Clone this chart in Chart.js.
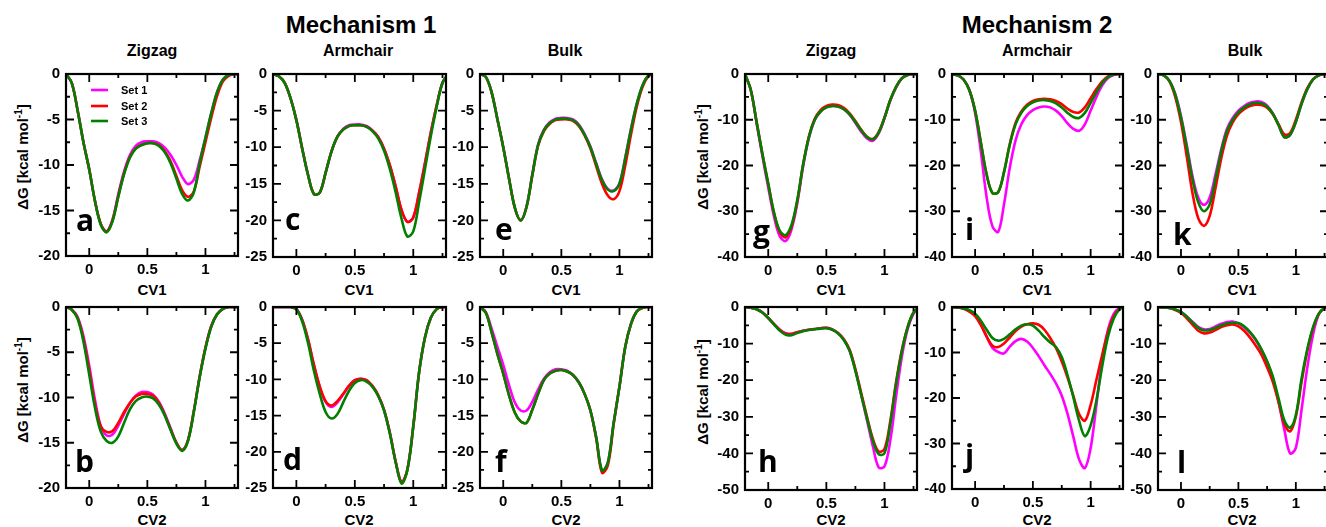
<!DOCTYPE html>
<html>
<head>
<meta charset="utf-8">
<script src="https://cdn.jsdelivr.net/npm/chart.js@4.4.1/dist/chart.umd.min.js"></script>
<style>
  body { margin: 0; background: #fff; width: 1326px; height: 527px; overflow: hidden; position: relative;
         font-family: "Liberation Sans", Arial, sans-serif; font-weight: bold; color: #000; }
  canvas { position: absolute; }
  .t { position: absolute; white-space: nowrap; transform: translateX(-50%); line-height: 1; }
  .yt { position: absolute; white-space: nowrap; font-size: 15px; line-height: 1;
        transform: translate(-50%, -50%) rotate(-90deg); }
  .yt sup { font-size: 10px; }
</style>
</head>
<body>
<div class="t" style="left:361px;top:13px;font-size:24px">Mechanism 1</div>
<div class="t" style="left:1037px;top:13px;font-size:24px">Mechanism 2</div>
<div class="t" style="left:152px;top:43px;font-size:16px">Zigzag</div>
<div class="t" style="left:358px;top:43px;font-size:16px">Armchair</div>
<div class="t" style="left:565px;top:43px;font-size:16px">Bulk</div>
<div class="t" style="left:831px;top:43px;font-size:16px">Zigzag</div>
<div class="t" style="left:1037px;top:43px;font-size:16px">Armchair</div>
<div class="t" style="left:1245px;top:43px;font-size:16px">Bulk</div>
<div class="t" style="left:152px;top:282px;font-size:15px">CV1</div>
<div class="t" style="left:359px;top:282px;font-size:15px">CV1</div>
<div class="t" style="left:566px;top:282px;font-size:15px">CV1</div>
<div class="t" style="left:831px;top:282px;font-size:15px">CV1</div>
<div class="t" style="left:1037px;top:282px;font-size:15px">CV1</div>
<div class="t" style="left:1242px;top:282px;font-size:15px">CV1</div>
<div class="t" style="left:152px;top:512px;font-size:15px">CV2</div>
<div class="t" style="left:359px;top:512px;font-size:15px">CV2</div>
<div class="t" style="left:566px;top:512px;font-size:15px">CV2</div>
<div class="t" style="left:831px;top:512px;font-size:15px">CV2</div>
<div class="t" style="left:1037px;top:512px;font-size:15px">CV2</div>
<div class="t" style="left:1242px;top:512px;font-size:15px">CV2</div>
<div class="yt" style="left:22px;top:157px">ΔG [kcal mol<sup>-1</sup>]</div>
<div class="yt" style="left:22px;top:390px">ΔG [kcal mol<sup>-1</sup>]</div>
<div class="yt" style="left:702px;top:157px">ΔG [kcal mol<sup>-1</sup>]</div>
<div class="yt" style="left:702px;top:392px">ΔG [kcal mol<sup>-1</sup>]</div>
<script>
// collective variable grid shared by all curves
const cv = [-0.2, -0.15, -0.1, -0.05, 0, 0.05, 0.1, 0.15, 0.2, 0.25, 0.3, 0.35, 0.4, 0.45, 0.5,
  0.55, 0.6, 0.65, 0.7, 0.75, 0.8, 0.85, 0.9, 0.95, 1, 1.05, 1.1, 1.15, 1.2, 1.25, 1.3];

const setNames = ['Set 1', 'Set 2', 'Set 3'];
const setColors = ['#ff00ff', '#ff0000', '#008000'];

// Mechanism 1, CV1
const a1 = [0,-1,-4,-7.5,-10.5,-14,-16.5,-17.3,-16,-13.2,-10.7,-8.9,-7.9,-7.5,-7.4,-7.4,-7.6,-8.1,-8.9,-10,-11.3,-12.1,-11.6,-9.5,-7,-4.3,-2,-0.6,-0.1,0,0];
const a2 = [0,-1,-4,-7.5,-10.5,-14,-16.5,-17.3,-16.1,-13.4,-10.9,-9.1,-8.2,-7.8,-7.6,-7.6,-7.8,-8.5,-9.6,-11.2,-12.8,-13.5,-12.9,-10.2,-7.5,-4.8,-2.4,-0.8,-0.2,0,0];
const a3 = [0,-1,-4,-7.5,-10.5,-14,-16.6,-17.4,-16.2,-13.5,-11,-9.2,-8.2,-7.8,-7.6,-7.6,-7.9,-8.6,-9.8,-11.5,-13.2,-13.9,-13,-9.8,-7,-4.3,-2,-0.6,-0.1,0,0];
const c1 = [0,-0.3,-1.2,-3.3,-6.3,-10.2,-13.8,-16.4,-16.2,-13.5,-10.6,-8.6,-7.5,-7,-6.9,-6.9,-7.1,-7.7,-8.6,-10.2,-12.5,-15.4,-18.6,-20.2,-19.6,-16.2,-12.2,-8,-4.3,-1.2,0];
const c2 = [0,-0.3,-1.2,-3.3,-6.3,-10.2,-13.8,-16.4,-16.2,-13.5,-10.6,-8.6,-7.6,-7.1,-7,-7,-7.2,-7.7,-8.6,-10.2,-12.5,-15.4,-18.6,-20.2,-19.6,-16.2,-12.2,-8,-4.3,-1.2,0];
const c3 = [0,-0.3,-1.2,-3.3,-6.3,-10.2,-13.8,-16.4,-16.2,-13.5,-10.6,-8.6,-7.6,-7.1,-7,-7,-7.2,-7.8,-8.8,-10.5,-13,-16.2,-19.8,-22.2,-21.5,-17.5,-13,-8.5,-4.5,-1.2,0];
const e1 = [0,-0.4,-2.5,-6.2,-10,-14.3,-18.3,-20,-18.1,-13.7,-9.6,-7.6,-6.6,-6.1,-6,-6,-6.2,-6.9,-8.2,-9.9,-12.2,-14.4,-15.7,-15.9,-14.9,-11.4,-7.4,-4,-1.5,-0.2,0];
const e2 = [0,-0.4,-2.5,-6.2,-10,-14.3,-18.3,-20,-18.2,-13.9,-9.8,-7.8,-6.8,-6.3,-6.2,-6.2,-6.4,-7.1,-8.4,-10.2,-12.6,-15,-16.6,-17.1,-16,-12.5,-8.2,-4.4,-1.7,-0.3,0];
const e3 = [0,-0.4,-2.5,-6.2,-10,-14.3,-18.3,-20,-18.2,-13.8,-9.7,-7.7,-6.7,-6.2,-6.1,-6.1,-6.3,-7,-8.3,-10,-12.3,-14.5,-15.8,-16,-15,-11.5,-7.5,-4,-1.5,-0.2,0];

// Mechanism 1, CV2
const b1 = [0,-0.3,-1.1,-3.2,-6.5,-10.3,-13.2,-14.2,-14.1,-13.1,-11.8,-10.6,-9.8,-9.4,-9.4,-9.7,-10.5,-11.8,-13.4,-15,-15.8,-14.7,-11.5,-7.7,-4.5,-2.1,-0.8,-0.2,0,0,0];
const b2 = [0,-0.3,-1.2,-3.5,-7,-10.8,-13.2,-13.8,-13.7,-12.8,-11.6,-10.6,-9.9,-9.6,-9.6,-9.8,-10.6,-11.9,-13.5,-15,-15.8,-14.7,-11.5,-7.7,-4.5,-2.1,-0.8,-0.2,0,0,0];
const b3 = [0,-0.3,-1.3,-3.8,-7.5,-11.2,-13.8,-14.8,-15,-14.3,-12.8,-11.3,-10.4,-10,-9.9,-10.1,-10.8,-12,-13.6,-15.1,-15.9,-14.8,-11.6,-7.8,-4.6,-2.2,-0.8,-0.2,0,0,0];
const d1 = [0,0,0,0,-0.3,-1.8,-4.5,-8,-11,-13.1,-13.8,-13.2,-12.1,-10.9,-10.1,-9.9,-10.1,-10.9,-12.2,-14.2,-17.4,-21.4,-24.2,-22.4,-16.5,-9,-4.2,-1.5,-0.3,0,0];
const d2 = [0,0,0,0,-0.3,-1.8,-4.5,-8,-11,-13,-13.6,-13,-12,-10.9,-10.1,-9.9,-10.1,-10.9,-12.2,-14.2,-17.4,-21.4,-24.2,-22.4,-16.5,-9,-4.2,-1.5,-0.3,0,0];
const d3 = [0,0,0,0,-0.3,-2,-5,-8.8,-12,-14.5,-15.4,-14.8,-13.2,-11.6,-10.5,-10.1,-10.3,-11,-12.3,-14.3,-17.5,-21.5,-24.4,-22.5,-16.5,-9,-4.2,-1.5,-0.3,0,0];
const f1 = [0,-0.7,-3,-5.5,-8,-10.8,-13.2,-14.3,-14.3,-13.1,-11.4,-9.9,-9,-8.6,-8.6,-8.8,-9.4,-10.4,-12,-14.3,-18,-22.6,-21.5,-16,-11,-5.5,-2.3,-0.6,-0.1,0,0];
const f2 = [0,-0.8,-3.5,-6.5,-9.2,-12.2,-14.6,-15.8,-16,-14.2,-12,-10.1,-9.2,-8.8,-8.7,-8.9,-9.4,-10.4,-12,-14.3,-18.2,-22.9,-21.9,-16.2,-11,-5.5,-2.3,-0.6,-0.1,0,0];
const f3 = [0,-0.8,-3.5,-6.5,-9.2,-12.2,-14.6,-15.8,-16,-14.2,-12,-10.1,-9.2,-8.8,-8.7,-8.9,-9.4,-10.4,-12,-14.3,-18,-22.6,-21.5,-16,-11,-5.5,-2.3,-0.6,-0.1,0,0];

// Mechanism 2, CV1
const g1 = [0,-3.5,-10.8,-18,-24.8,-31.2,-35.5,-36.5,-34,-28.2,-20.2,-14,-10.1,-8.2,-7.3,-7,-7.1,-7.7,-8.9,-10.7,-12.6,-14.1,-14.6,-13,-9.7,-5.8,-2.9,-1,-0.2,0,0];
const g2 = [0,-3.5,-10.5,-17.5,-24,-30.5,-34.6,-35.7,-33.4,-27.8,-19.8,-13.6,-9.8,-7.9,-7,-6.7,-6.8,-7.4,-8.6,-10.3,-12.2,-13.7,-14.2,-12.7,-9.5,-5.7,-2.8,-0.9,-0.2,0,0];
const g3 = [0,-3.5,-10.5,-17.5,-24,-30.3,-34.3,-35.2,-33,-27.5,-19.8,-13.8,-10,-8.2,-7.3,-7,-7.1,-7.7,-8.8,-10.5,-12.3,-13.8,-14.3,-12.8,-9.6,-5.7,-2.8,-0.9,-0.2,0,0];
const i1 = [0,-0.3,-1.2,-3.5,-8.5,-17,-27,-33.3,-34.5,-28.5,-20.5,-14.5,-11,-9,-7.9,-7.3,-7.1,-7.3,-8,-9.2,-10.8,-12,-12.4,-11,-8,-5,-2.5,-0.9,-0.2,0,0];
const i2 = [0,-0.3,-1.2,-3.5,-8,-15,-22,-26,-25.8,-21.4,-15.3,-10.7,-8.2,-6.7,-5.9,-5.5,-5.4,-5.5,-5.9,-6.6,-7.6,-8.3,-8.4,-7.3,-5.3,-3.3,-1.6,-0.5,-0.1,0,0];
const i3 = [0,-0.3,-1.2,-3.5,-8,-15,-22,-26,-25.8,-21.5,-15.5,-11,-8.5,-7,-6.2,-5.8,-5.7,-5.9,-6.4,-7.3,-8.5,-9.4,-9.6,-8.5,-6.3,-4,-2,-0.7,-0.1,0,0];
const k1 = [0,-0.3,-1.5,-4.3,-9.2,-15.5,-22.3,-27,-28.6,-27,-22,-16.5,-12,-9.6,-8,-7,-6.3,-6,-6.1,-6.9,-8.6,-11.2,-13.8,-13.3,-10.5,-6.5,-3.3,-1.2,-0.3,0,0];
const k2 = [0,-0.3,-1.6,-5,-10.5,-18,-26,-31.5,-33.2,-31,-25,-18.5,-13.5,-10.6,-8.8,-7.7,-7,-6.7,-6.8,-7.4,-8.8,-11,-13.2,-12.9,-10,-6.2,-3.1,-1.1,-0.3,0,0];
const k3 = [0,-0.3,-1.5,-4.5,-9.5,-16,-23,-28,-30,-28.5,-23,-17,-12.5,-10,-8.4,-7.3,-6.6,-6.3,-6.4,-7.1,-8.7,-11.2,-13.8,-13.3,-10.5,-6.5,-3.3,-1.2,-0.3,0,0];

// Mechanism 2, CV2
const h1 = [0,-0.2,-0.6,-1.5,-3,-4.6,-6.2,-7.2,-7.3,-6.9,-6.5,-6.2,-6,-5.8,-5.7,-6.1,-7.1,-8.8,-11.8,-17.2,-24,-31,-38,-43.8,-43.6,-36.5,-24.5,-13.5,-6,-1.8,0];
const h2 = [0,-0.2,-0.6,-1.5,-3,-4.7,-6.3,-7.3,-7.4,-6.9,-6.5,-6.2,-6,-5.8,-5.7,-6.1,-7.1,-8.8,-11.7,-17,-23.5,-30,-36,-39.5,-38.8,-31.2,-20.5,-11.7,-5.4,-1.5,0];
const h3 = [0,-0.2,-0.6,-1.5,-3,-4.8,-6.5,-7.6,-7.7,-7.1,-6.6,-6.3,-6.1,-5.9,-5.8,-6.2,-7.2,-9,-12,-17.5,-24,-30.5,-36.5,-40.2,-40,-32,-21,-12,-5.5,-1.5,0];
const j1 = [0,-0.1,-0.3,-0.8,-1.8,-3.8,-6.5,-9,-9.9,-10.2,-8.7,-7.5,-7,-7.6,-9,-10.8,-12.8,-14.7,-16.8,-19.5,-23.5,-28.5,-33.5,-35.4,-31,-21.5,-11.5,-5,-1.5,-0.2,0];
const j2 = [0,-0.1,-0.4,-1,-2,-4,-6.5,-8.5,-8.8,-8,-6.7,-5.3,-4.3,-3.8,-3.6,-3.9,-5,-6.8,-9,-12,-15.5,-19.5,-23.5,-25,-21.5,-16,-10.5,-5.5,-2,-0.4,0];
const j3 = [0,-0.1,-0.3,-0.7,-1.5,-3,-5,-6.8,-7.4,-7,-6,-4.9,-4.1,-3.8,-4.1,-5.2,-6.6,-7.8,-8.8,-11,-15,-19.8,-25,-28.4,-26,-20.5,-13,-6.5,-2.5,-0.5,0];
const l1 = [0,-0.1,-0.3,-0.7,-1.3,-2.6,-4,-5.4,-6.1,-6,-5.3,-4.6,-4.1,-4,-4.5,-5.5,-7,-9,-11.7,-15,-19.5,-26,-33.5,-40,-38.5,-28,-16.5,-7.5,-2,-0.3,0];
const l2 = [0,-0.1,-0.3,-0.8,-1.6,-3.1,-4.8,-6.5,-7.2,-7,-6.3,-5.5,-5,-4.8,-5.3,-6.5,-8.3,-10.5,-13,-16.5,-20.5,-26,-32,-34,-30,-20.5,-12,-5.8,-1.9,-0.3,0];
const l3 = [0,-0.1,-0.3,-0.7,-1.3,-2.6,-4.2,-5.7,-6.4,-6.3,-5.7,-5,-4.5,-4.3,-4.4,-5.3,-6.8,-8.8,-11.5,-14.8,-19,-25,-31,-33,-29.5,-19.5,-11.5,-5.5,-1.8,-0.3,0];

const xMin = -0.2, xMax = 1.28;

Chart.defaults.font.family = '"Liberation Sans", Arial, sans-serif';
Chart.defaults.font.weight = 'bold';
Chart.defaults.font.size = 15;
Chart.defaults.color = '#000';

// box with inward ticks on all four sides, panel letter, optional legend
const frame = {
  id: 'frame',
  afterDatasetsDraw(chart, args, o) {
    const { ctx, chartArea: a } = chart;
    const xs = chart.scales.x, ys = chart.scales.y;
    const marks = (sc, step) => {
      const h = step / 2, out = [];
      for (let k = Math.ceil(sc.min / h - 1e-6); k * h <= sc.max + 1e-6; k++) {
        const v = k * h;
        out.push([v, Math.abs(v / step - Math.round(v / step)) < 1e-6]);
      }
      return out;
    };
    ctx.save();
    ctx.strokeStyle = '#000';
    ctx.lineWidth = 1.8;
    ctx.beginPath();
    marks(xs, 0.5).forEach(([v, major]) => {
      const p = xs.getPixelForValue(v), len = major ? 8 : 4;
      ctx.moveTo(p, a.bottom); ctx.lineTo(p, a.bottom - len);
      ctx.moveTo(p, a.top); ctx.lineTo(p, a.top + len);
    });
    marks(ys, o.step).forEach(([v, major]) => {
      const p = ys.getPixelForValue(v), len = major ? 8 : 4;
      ctx.moveTo(a.left, p); ctx.lineTo(a.left + len, p);
      ctx.moveTo(a.right, p); ctx.lineTo(a.right - len, p);
    });
    ctx.stroke();
    ctx.lineWidth = 2.2;
    ctx.strokeRect(a.left, a.top, a.right - a.left, a.bottom - a.top);

    ctx.fillStyle = '#000';
    ctx.font = 'bold 30px "Open Sans"';
    ctx.fillText(o.letter, o.lx - o.ox, o.ly - o.oy);

    if (o.legend) {
      ctx.font = 'bold 11px "Liberation Sans"';
      ctx.lineWidth = 2.6;
      [90, 106, 121].forEach((yy, i) => {
        ctx.strokeStyle = setColors[i];
        ctx.beginPath();
        ctx.moveTo(91 - o.ox, yy - o.oy); ctx.lineTo(108 - o.ox, yy - o.oy);
        ctx.stroke();
        ctx.fillText(setNames[i], 121 - o.ox, yy + 4 - o.oy);
      });
    }
    ctx.restore();
  }
};

const panels = [
  { sets: [a1, a2, a3], yMin: -20, step: 5,  left: 66,   top: 69,  w: 172, h: 187, letter: 'a', lx: 76,   ly: 231, legend: true },
  { sets: [c1, c2, c3], yMin: -25, step: 5,  left: 273,  top: 69,  w: 173, h: 188, letter: 'c', lx: 285,  ly: 230 },
  { sets: [e1, e2, e3], yMin: -25, step: 5,  left: 480,  top: 69,  w: 172, h: 188, letter: 'e', lx: 495,  ly: 240 },
  { sets: [b1, b2, b3], yMin: -20, step: 5,  left: 66,   top: 302, w: 172, h: 186, letter: 'b', lx: 75,   ly: 472 },
  { sets: [d1, d2, d3], yMin: -25, step: 5,  left: 273,  top: 302, w: 173, h: 186, letter: 'd', lx: 283,  ly: 470 },
  { sets: [f1, f2, f3], yMin: -25, step: 5,  left: 480,  top: 302, w: 172, h: 186, letter: 'f', lx: 495,  ly: 472 },
  { sets: [g1, g2, g3], yMin: -40, step: 10, left: 745,  top: 69,  w: 172, h: 188, letter: 'g', lx: 753,  ly: 242 },
  { sets: [i1, i2, i3], yMin: -40, step: 10, left: 952,  top: 69,  w: 171, h: 188, letter: 'i', lx: 965,  ly: 240 },
  { sets: [k1, k2, k3], yMin: -40, step: 10, left: 1158, top: 69,  w: 170, h: 188, letter: 'k', lx: 1173, ly: 245 },
  { sets: [h1, h2, h3], yMin: -50, step: 10, left: 745,  top: 302, w: 172, h: 188, letter: 'h', lx: 758,  ly: 472 },
  { sets: [j1, j2, j3], yMin: -40, step: 10, left: 952,  top: 302, w: 171, h: 187, letter: 'j', lx: 965,  ly: 466 },
  { sets: [l1, l2, l3], yMin: -50, step: 10, left: 1158, top: 302, w: 170, h: 188, letter: 'l', lx: 1177, ly: 473 }
];

function makePanel(p) {
  const yW = 48, padT = 10, padR = 8, xH = 26;
  const canvas = document.createElement('canvas');
  canvas.width = yW + p.w + padR;
  canvas.height = padT + p.h + xH;
  const ox = p.left - yW, oy = p.top - padT;
  canvas.style.left = ox + 'px';
  canvas.style.top = oy + 'px';
  document.body.appendChild(canvas);

  return new Chart(canvas, {
    type: 'line',
    data: {
      datasets: p.sets.map((s, i) => ({
        label: setNames[i],
        data: cv.map((x, k) => ({ x: x, y: s[k] })),
        borderColor: setColors[i],
        borderWidth: 2.6,
        pointRadius: 0,
        fill: false,
        tension: 0.35,
        order: 2 - i
      }))
    },
    options: {
      responsive: false,
      animation: false,
      devicePixelRatio: 1,
      layout: { padding: { top: padT, right: padR, left: 0, bottom: 0 } },
      plugins: {
        legend: { display: false },
        tooltip: { enabled: false },
        frame: { letter: p.letter, lx: p.lx, ly: p.ly, ox: ox, oy: oy, step: p.step, legend: !!p.legend }
      },
      scales: {
        x: {
          type: 'linear', min: xMin, max: xMax,
          grid: { display: false, drawTicks: false },
          border: { display: false },
          ticks: { stepSize: 0.5, includeBounds: false, padding: 5, maxRotation: 0, callback: v => String(v) },
          afterFit: s => { s.height = xH; }
        },
        y: {
          type: 'linear', min: p.yMin, max: 0,
          grid: { display: false, drawTicks: false },
          border: { display: false },
          ticks: { stepSize: p.step, includeBounds: false, padding: 6 },
          afterFit: s => { s.width = yW; }
        }
      }
    },
    plugins: [frame]
  });
}

panels.forEach(makePanel);
</script>
</body>
</html>
